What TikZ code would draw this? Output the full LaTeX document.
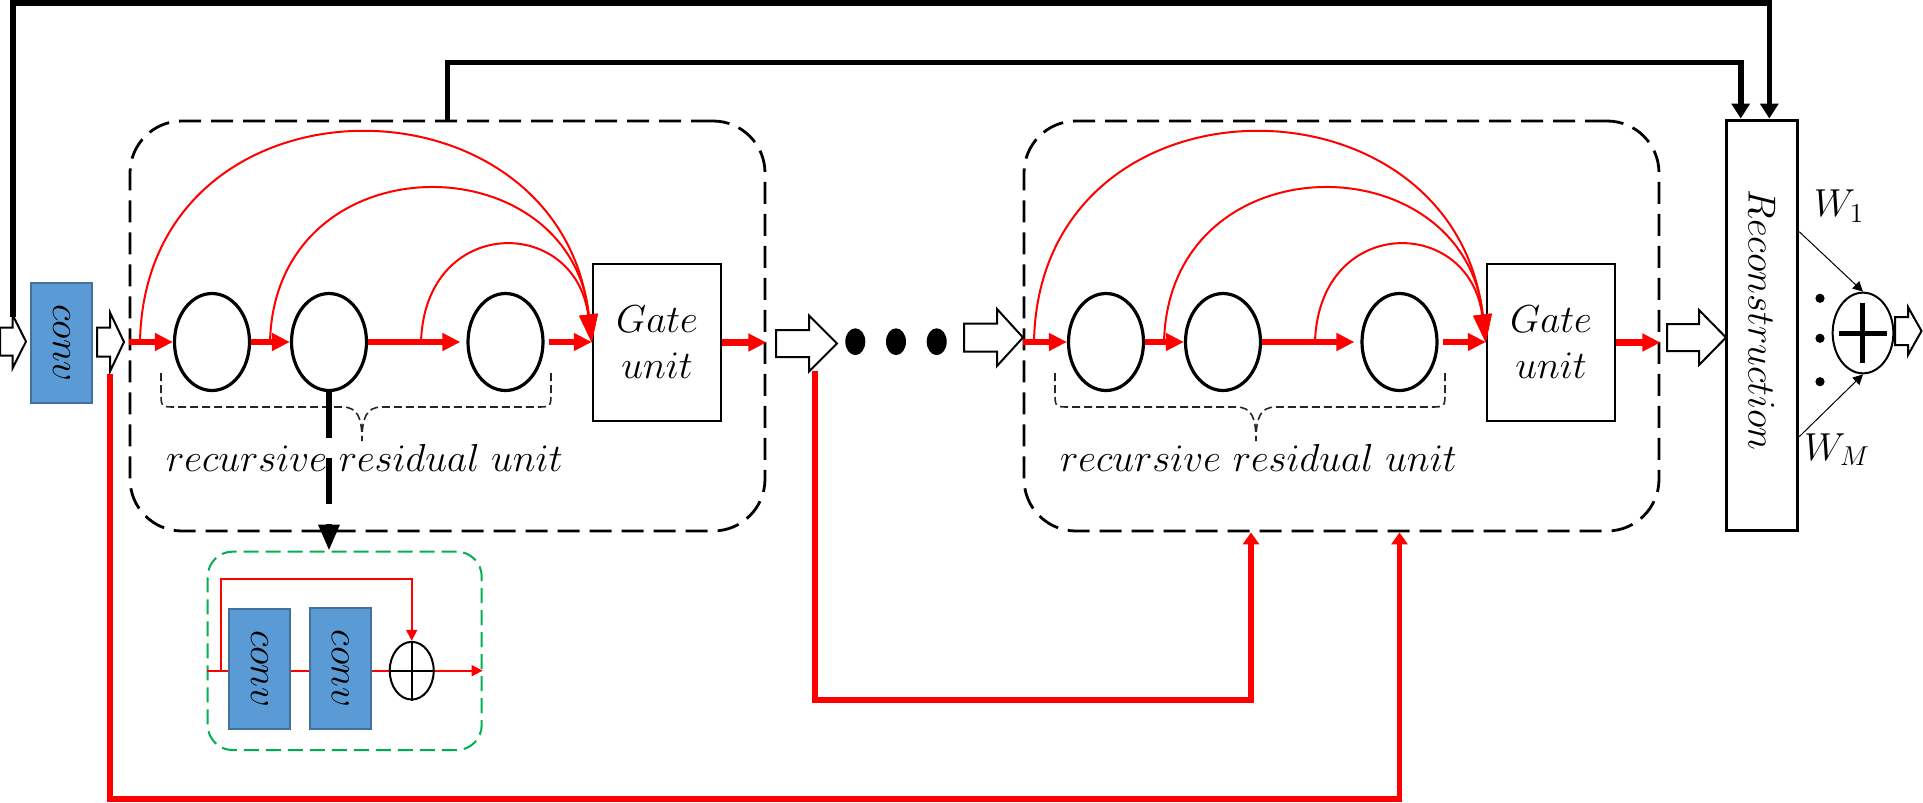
\documentclass[tikz,border=0pt]{standalone}
\usepackage{fix-cm}
\usepackage{graphicx}
\usetikzlibrary{arrows.meta,shapes.geometric,calc}
\definecolor{convfill}{RGB}{91,155,213}
\definecolor{convdraw}{RGB}{65,113,156}
\definecolor{grn}{RGB}{0,176,80}
\definecolor{rd}{RGB}{255,0,0}
\newcommand\hollowarr[6]{\draw[hollow] (#1,#4-#5) -- (#2,#4-#5) -- (#2,#4-#6) -- (#3,#4) -- (#2,#4+#6) -- (#2,#4+#5) -- (#1,#4+#5) -- cycle;}
\tikzset{
 blk/.style={draw, dash pattern=on 11pt off 5pt, line width=1.4pt, rounded corners=26pt, minimum width=317.5pt, minimum height=205pt, inner sep=0pt},
 cell/.style={ellipse, draw, line width=1.6pt, minimum width=37.5pt, minimum height=48.5pt, inner sep=0pt},
 gatebox/.style={draw, line width=1.2pt, minimum width=64pt, minimum height=78.5pt, inner sep=0pt, align=center},
 thickred/.style={draw=rd, line width=3.2pt, -{Triangle[length=9pt,width=8.5pt]}},
 curvered/.style={draw=rd, line width=1pt, -{Triangle[length=14pt,width=9pt]}},
 loopred/.style={draw=rd, line width=2.6pt, -{Triangle[length=6pt,width=8pt]}},
 thinred/.style={draw=rd, line width=0.8pt},
 thinredarr/.style={draw=rd, line width=0.8pt, -{Triangle[length=5.5pt,width=5.5pt]}},
 blkline/.style={draw, line width=2.8pt, -{Triangle[length=7.5pt,width=9pt]}},
 bracestyle/.style={draw=black!85, line width=0.8pt, dash pattern=on 4pt off 2pt},
 convbox/.style={draw=convdraw, fill=convfill, line width=1pt, minimum width=30.5pt, minimum height=60.2pt, inner sep=0pt},
 hollow/.style={draw, fill=white, line width=1pt, line join=miter},
 plusell/.style={ellipse, draw, line width=1pt, inner sep=0pt},
}
\begin{document}
\begin{tikzpicture}[x=0.5pt,y=-0.5pt,font=\fontsize{19.5}{23}\selectfont]
\useasboundingbox (0,0) rectangle (1923,803);

% hollow block arrows
\hollowarr{0}{12.7}{26}{341.5}{14}{26.5}
\hollowarr{97}{110}{124}{342}{14.5}{29.5}
\hollowarr{776}{809}{837}{343.5}{13.5}{28}
\hollowarr{964}{997}{1023}{337.5}{14}{28.5}
\hollowarr{1667}{1699}{1726}{337.5}{13.5}{27.5}
\hollowarr{1895}{1908}{1921.5}{331}{14}{24}

% first conv
\node[convbox] (conv0) at (61.5,343) {\rotatebox{-90}{$conv$}};

% the two recursive blocks
\foreach \p/\sx in {A/130,B/1024}{
\begin{scope}[shift={(\sx,0)}]
 \node[blk] (\p-box) at (317.5,326) {};
 \node[cell] (\p-e1) at (82,342) {};
 \node[cell] (\p-e2) at (199,342) {};
 \node[cell] (\p-e3) at (375.5,342) {};
 \node[gatebox] (\p-gate) at (527,342.5) {$Gate$\\$unit$};
 \coordinate (\p-c1) at (10,342);
 \coordinate (\p-c2) at (140,342);
 \coordinate (\p-c3) at (291,342);
 \draw[thickred] (\p-box.west |- \p-e1) -- (\p-e1.west);
 \draw[thickred] (\p-e1.east) -- (\p-e2.west);
 \draw[thickred,shorten >=3pt] (\p-e2.east) -- (\p-e3.west);
 \draw[thickred] ([xshift=2pt]\p-e3.east) -- (\p-e3.east -| \p-gate.west);
 \draw[thickred] (\p-gate.east) -- (\p-box.east |- \p-gate);
 \draw[curvered] (\p-c1) .. controls (15,65) and (430,65) .. (\p-gate.west);
 \draw[curvered] (\p-c2) .. controls (145,140) and (440,140) .. (\p-gate.west);
 \draw[curvered] (\p-c3) .. controls (295,215) and (445,215) .. (\p-gate.west);
 \draw[bracestyle] (31,373) -- (31,392) .. controls (31,407) .. (46,407) -- (212,407) .. controls (228,407) and (232,418) .. (232,441);
 \draw[bracestyle] (421,373) -- (421,392) .. controls (421,407) .. (406,407) -- (252,407) .. controls (236,407) and (232,418) .. (232,441);
 \node[anchor=base] (\p-lbl) at (234.5,471) {$recursive\ residual\ unit$};
\end{scope}}

% dots between blocks
\fill (855.3,341.7) ellipse (5pt and 6.7pt);
\fill (896,341.7) ellipse (5pt and 6.7pt);
\fill (936.7,341.7) ellipse (5pt and 6.7pt);

% green detail box
\node[draw=grn, line width=1pt, dash pattern=on 7.5pt off 3.5pt, rounded corners=12.5pt, minimum width=137pt, minimum height=99.2pt, inner sep=0pt] (G) at (344.7,650.85) {};
\node[convbox] (c1) at (259.5,668.85) {\rotatebox{-90}{$conv$}};
\node[convbox] (c2) at (340.35,668.35) {\rotatebox{-90}{$conv$}};
\node[plusell, minimum width=22pt, minimum height=28.85pt] (gp) at (411.7,670.7) {};
\draw[line width=1pt] (gp.north) -- (gp.south) (gp.west) -- (gp.east);
\coordinate (gin) at (G.west |- gp);
\coordinate (gb) at (221,670.7);
\draw[thinred] (gin) -- (gin -| c1.west);
\draw[thinredarr] (gb) -- (221,579) -- (gp.north |- 221,579) -- (gp.north);
\draw[thinred] (c1.east |- gp) -- (c2.west |- gp);
\draw[thinred] (c2.east |- gp) -- (gp.west);
\draw[thinredarr] (gp.east) -- (G.east |- gp);

% dashed black arrow to detail box
\draw[line width=3pt, dash pattern=on 23pt off 10pt, -{Triangle[length=13pt,width=10pt]}] (A-e2.south) -- (A-e2.south |- G.north);

% reconstruction
\node[draw, line width=1.5pt, minimum width=35.85pt, minimum height=205.35pt, inner sep=0pt] (R) at (1761.85,325.35) {\rotatebox{-90}{\kern-5pt$Reconstruction$}};
\node[plusell, minimum width=30.35pt, minimum height=40.35pt] (P2) at (1863,333) {};
\draw[line width=2.5pt] (1839,333) -- (1886.7,333) (1862.85,302.7) -- (1862.85,363.3);
\draw[line width=0.5pt, -{Triangle[length=5pt,width=5pt]}] (R.east |- 0,231.7) -- (P2.north);
\draw[line width=0.5pt, -{Triangle[length=5pt,width=5pt]}] (R.east |- 0,436.7) -- (P2.south);
\node[anchor=base] (w1) at (1839,216.7) {$W_1$};
\node[anchor=base] (wm) at (1837,460) {$W_M$};
\fill (1820,298.3) circle (2.3pt);
\fill (1820,338.3) circle (2.3pt);
\fill (1820,381.7) circle (2.3pt);

% long black skip lines
\coordinate (h1top) at (13,317);
\draw[blkline] (h1top) -- (13,3) -- (1769.3,3) -- (1769.3,0 |- R.north);
\draw[blkline] (A-box.north) -- (447.5,62.5) -- (1740.7,62.5) -- (1740.7,0 |- R.north);

% red feed lines
\coordinate (r1) at (110,374);
\coordinate (r2) at (815,371);
\draw[loopred] (r1) -- (110,799) -- (1399.5,799) -- (1399.5,0 |- B-box.south);
\draw[loopred] (r2) -- (815,700) -- (1251,700) -- (1251,0 |- B-box.south);
\end{tikzpicture}
\end{document}
